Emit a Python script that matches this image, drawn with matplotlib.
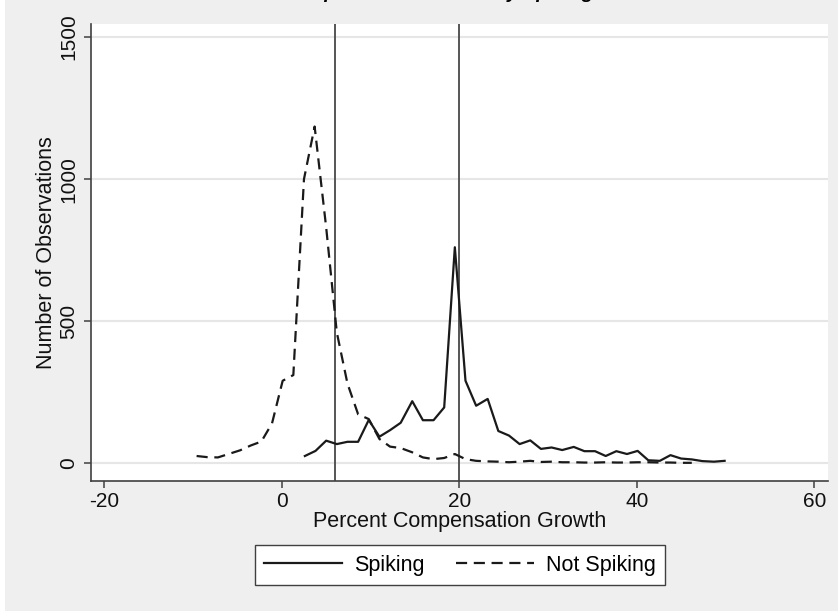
import matplotlib
matplotlib.use("Agg")
import matplotlib.pyplot as plt
from matplotlib.patches import Rectangle

plt.rcParams['font.family'] = ['Liberation Sans', 'DejaVu Sans']
plt.rcParams['axes.unicode_minus'] = False

# Spiking (solid)
spike_x = [2.6, 3.8, 5.0, 6.2, 7.4, 8.6, 9.8, 11.0, 12.2, 13.4,
           14.7, 15.9, 17.1, 18.3, 19.5, 20.7, 21.9, 23.2, 24.4, 25.6,
           26.8, 28.0, 29.2, 30.4, 31.6, 32.9, 34.1, 35.3, 36.5, 37.7,
           38.9, 40.1, 41.3, 42.6, 43.8, 45.0, 46.2, 47.4, 48.7, 49.9]
spike_n = [25, 43, 79, 67, 75, 75, 152, 93, 116, 142,
           218, 151, 151, 196, 760, 290, 202, 226, 113, 97,
           67, 80, 50, 55, 46, 57, 42, 42, 25, 42,
           32, 43, 10, 8, 28, 16, 13, 7, 5, 8]

# Not spiking (dashed)
nospike_x = [-9.6, -8.4, -7.2, -6.0, -4.7, -3.5, -2.3, -1.1, 0.1, 1.3,
             2.5, 3.7, 5.0, 6.2, 7.4, 8.6, 9.8, 11.0, 12.2, 13.4,
             14.7, 15.9, 17.1, 18.3, 19.5, 20.7, 21.9, 23.2, 24.4, 25.6,
             26.8, 28.0, 29.2, 30.4, 31.6, 32.9, 34.1, 35.3, 36.5, 37.7,
             38.9, 40.1, 41.3, 42.6, 43.8, 45.0, 46.2]
nospike_n = [25, 21, 20, 32, 45, 62, 76, 140, 290, 310,
             1000, 1185, 830, 460, 280, 172, 155, 85, 58, 53,
             38, 20, 14, 18, 32, 14, 8, 6, 5, 3,
             5, 8, 4, 5, 3, 3, 2, 2, 3, 2,
             2, 3, 3, 2, 2, 1, 1]

cutoffs = [6, 20]
xticks = [-20, 0, 20, 40, 60]
yticks = [0, 500, 1000, 1500]

bg = '#efefef'
axcol = '#404040'

fig = plt.figure(figsize=(8.38, 6.11), dpi=100, facecolor='white')
fig.patches.append(Rectangle((5/838, 0), 1, 1, transform=fig.transFigure,
                             facecolor=bg, edgecolor='none', zorder=-10))

ax = fig.add_axes([91/838, 1-481/611, (828-91)/838, (481-24)/611])
ax.set_facecolor('white')

for y in yticks:
    ax.axhline(y, color='#e6e6e6', lw=1.5, zorder=1)
for c in cutoffs:
    ax.axvline(c, color='#555555', lw=1.4, zorder=2)

ax.plot(spike_x, spike_n, color='#1a1a1a', lw=1.6, label='Spiking', zorder=3)
ax.plot(nospike_x, nospike_n, color='#1a1a1a', lw=1.6, ls=(0, (5, 3)),
        label='Not Spiking', zorder=3)

ax.set_xlim(-21.5, 61.55)
ax.set_ylim(-63, 1546)
ax.set_xticks(xticks)
ax.set_yticks(yticks)
ax.set_yticklabels([str(v) for v in yticks], rotation=90, va='center')

for s in ['top', 'right']:
    ax.spines[s].set_visible(False)
for s in ['left', 'bottom']:
    ax.spines[s].set_color(axcol)
    ax.spines[s].set_linewidth(1.2)
ax.tick_params(direction='out', length=5, width=1.1, color=axcol,
               labelsize=15, labelcolor='#111111')
ax.tick_params(axis='y', pad=4)
ax.tick_params(axis='x', pad=3)

ax.set_xlabel('Percent Compensation Growth', fontsize=15.5, color='#111111', labelpad=0)
ax.set_ylabel('Number of Observations', fontsize=15.5, color='#111111', labelpad=2)

leg = ax.legend(loc='center', bbox_to_anchor=(460/838, 1-565/611),
                bbox_transform=fig.transFigure, ncol=2, fontsize=15.5,
                handlelength=3.6, columnspacing=1.5, handletextpad=0.55,
                fancybox=False, framealpha=1, borderpad=0.45)
leg.get_frame().set_edgecolor(axcol)
leg.get_frame().set_linewidth(1.0)

# title, cropped at the top edge of the image
fig.text(470/838, 1 + 2/611, 'Compensation Growth by Spiking Status',
         ha='center', va='baseline', fontsize=14, fontweight='bold', style='italic')

fig.savefig('out.png', dpi=100, facecolor=fig.get_facecolor())
